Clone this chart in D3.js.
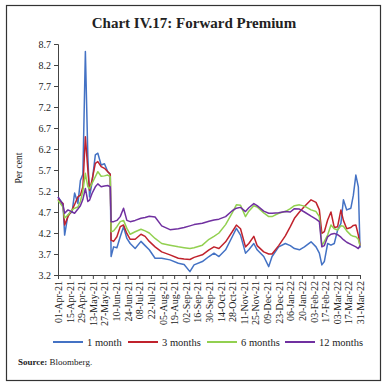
<!DOCTYPE html>
<html>
<head>
<meta charset="utf-8">
<script src="https://cdn.jsdelivr.net/npm/d3@7"></script>
<style>
  body { margin: 0; background: #fff; }
  svg text { font-family: "Liberation Serif", "DejaVu Serif", serif; fill: #222; }
</style>
</head>
<body>
<div class="CHART"></div>
<script>
// dates (same grid for all four lines)
var dates = ["2021-04-01","2021-04-07","2021-04-09","2021-04-13","2021-04-18","2021-04-21","2021-04-25","2021-04-28",
  "2021-05-01","2021-05-04","2021-05-07","2021-05-09","2021-05-12","2021-05-16","2021-05-19","2021-05-23","2021-05-27","2021-05-31",
  "2021-06-03","2021-06-04","2021-06-07","2021-06-11","2021-06-15","2021-06-19","2021-06-23","2021-06-27",
  "2021-07-03","2021-07-10","2021-07-15","2021-07-20","2021-07-27","2021-08-04","2021-08-14","2021-08-24","2021-08-31",
  "2021-09-07","2021-09-12","2021-09-22","2021-09-30","2021-10-06","2021-10-12","2021-10-20","2021-10-28",
  "2021-11-02","2021-11-07","2021-11-13","2021-11-17","2021-11-23","2021-11-27","2021-12-05","2021-12-11","2021-12-15","2021-12-23","2021-12-31",
  "2022-01-06","2022-01-11","2022-01-17","2022-01-23","2022-01-31","2022-02-06","2022-02-10","2022-02-13","2022-02-16","2022-02-20","2022-02-24","2022-02-28",
  "2022-03-04","2022-03-08","2022-03-11","2022-03-15","2022-03-20","2022-03-23","2022-03-26","2022-03-29","2022-03-31"];

var oneMonth = [5.05,4.9,4.15,4.63,4.7,5.15,4.9,5.45,5.6,8.52,6.0,5.06,5.4,6.06,6.1,5.82,5.85,5.66,
  5.6,3.64,3.87,3.85,4.11,4.35,4.07,3.95,3.83,4.0,3.9,3.8,3.6,3.6,3.56,3.48,3.45,
  3.28,3.44,3.52,3.64,3.72,3.64,3.8,4.11,4.31,4.15,3.72,3.8,3.95,3.8,3.64,3.4,3.64,3.87,3.95,
  3.9,3.83,3.8,3.87,3.99,3.87,3.72,3.44,3.52,3.95,3.91,3.95,4.27,4.43,4.99,4.75,4.79,5.1,5.58,5.3,3.85];

var threeMonths = [5.0,4.9,4.39,4.59,4.75,4.88,5.06,5.1,5.3,6.49,5.7,5.22,5.46,5.86,5.9,5.78,5.74,5.66,
  5.6,4.03,4.0,4.11,4.35,4.39,4.19,4.05,4.05,4.17,4.12,4.0,3.87,3.75,3.68,3.6,3.58,
  3.57,3.62,3.68,3.8,3.87,3.83,3.99,4.23,4.39,4.3,3.87,3.95,4.12,3.9,3.75,3.7,3.7,3.9,4.13,
  4.35,4.55,4.7,4.83,4.99,4.93,4.75,4.19,4.23,4.51,4.7,4.33,4.35,4.75,4.5,4.3,4.33,4.38,4.39,4.15,3.9];

var sixMonths = [4.98,4.82,4.56,4.63,4.75,4.79,4.82,4.95,5.2,5.62,5.3,5.26,5.38,5.54,5.66,5.55,5.56,5.58,
  5.54,4.23,4.25,4.35,4.47,4.5,4.31,4.17,4.23,4.29,4.25,4.2,4.07,3.95,3.91,3.87,3.85,
  3.83,3.85,3.91,4.05,4.12,4.2,4.4,4.68,4.87,4.86,4.59,4.72,4.85,4.82,4.68,4.59,4.59,4.67,4.71,
  4.78,4.85,4.87,4.84,4.75,4.71,4.59,3.9,4.0,4.15,4.39,4.3,4.27,4.37,4.36,4.25,4.15,4.12,4.11,4.05,3.9];

var twelveMonths = [5.06,4.87,4.67,4.75,4.7,4.67,4.77,4.85,5.0,5.26,4.95,4.98,5.14,5.3,5.37,5.3,5.32,5.33,
  5.3,4.47,4.47,4.5,4.59,4.79,4.5,4.47,4.5,4.55,4.57,4.6,4.58,4.37,4.28,4.3,4.33,
  4.37,4.4,4.43,4.48,4.51,4.53,4.59,4.73,4.79,4.81,4.71,4.8,4.9,4.85,4.72,4.67,4.67,4.68,4.71,
  4.7,4.78,4.77,4.7,4.6,4.53,4.47,3.87,3.9,4.11,4.17,4.19,4.16,4.1,4.04,3.98,3.93,3.9,3.87,3.83,3.9];

var seriesNames = ["1 month", "3 months", "6 months", "12 months"];
var seriesColors = ["#4472c4", "#c0222c", "#92d050", "#7030a0"];
var yTicks = [3.2, 3.7, 4.2, 4.7, 5.2, 5.7, 6.2, 6.7, 7.2, 7.7, 8.2, 8.7];

var W = 388, H = 388;
var margin = {top: 44, right: 28, bottom: 113, left: 58};

var svg = d3.select(".CHART").append("svg")
    .attr("width", W)
    .attr("height", H);

// outer frame
svg.append("rect")
    .attr("x", 6.5).attr("y", 5.5)
    .attr("width", 374).attr("height", 375)
    .attr("fill", "none")
    .attr("stroke", "#333")
    .attr("stroke-width", 1.2);

svg.append("text")
    .attr("x", 194).attr("y", 28)
    .attr("text-anchor", "middle")
    .style("font-size", "15px")
    .style("font-weight", "bold")
    .text("Chart IV.17: Forward Premium");

var parse = d3.timeParse("%Y-%m-%d");
var start = parse("2021-04-01"), end = parse("2022-03-31");

var x = d3.scaleTime()
    .domain([start, end])
    .range([margin.left, W - margin.right]);

var y = d3.scaleLinear()
    .domain([3.2, 8.7])
    .range([H - margin.bottom, margin.top]);

// x axis: tick every 14 days from 1 April
var xTicks = d3.range(0, 365, 14).map(function(d) { return d3.timeDay.offset(start, d); });

var xAxis = svg.append("g")
    .attr("transform", "translate(0," + (H - margin.bottom) + ")")
    .call(d3.axisBottom(x).tickValues(xTicks).tickFormat(d3.timeFormat("%d-%b-%y")).tickSizeOuter(0).tickSize(4));

xAxis.selectAll("text")
    .attr("transform", "rotate(-90)")
    .attr("text-anchor", "end")
    .attr("x", -6).attr("y", 0).attr("dy", "0.35em")
    .style("font-size", "10px");

var yAxis = svg.append("g")
    .attr("transform", "translate(" + margin.left + ",0)")
    .call(d3.axisLeft(y).tickValues(yTicks).tickFormat(d3.format(".1f")).tickSizeOuter(0).tickSize(4));

yAxis.selectAll("text").style("font-size", "10px");
svg.selectAll(".domain, .tick line").attr("stroke", "#444");

svg.append("text")
    .attr("transform", "translate(22," + 168 + ") rotate(-90)")
    .attr("text-anchor", "middle")
    .style("font-size", "9.5px")
    .text("Per cent");

var allSeries = [oneMonth, threeMonths, sixMonths, twelveMonths];

var line = d3.line()
    .x(function(d) { return x(d.date); })
    .y(function(d) { return y(d.value); });

allSeries.forEach(function(vals, i) {
    var pts = dates.map(function(d, j) { return {date: parse(d), value: vals[j]}; });
    svg.append("path")
        .datum(pts)
        .attr("fill", "none")
        .attr("stroke", seriesColors[i])
        .attr("stroke-width", 1.5)
        .attr("stroke-linejoin", "round")
        .attr("d", line);
});

// legend
var legendX = [53, 128, 207, 285];
var legend = svg.selectAll(".leg")
    .data(seriesNames)
    .enter().append("g")
    .attr("transform", function(d, i) { return "translate(" + legendX[i] + ",342)"; });

legend.append("line")
    .attr("x1", 0).attr("x2", 30)
    .attr("stroke", function(d, i) { return seriesColors[i]; })
    .attr("stroke-width", 2);

legend.append("text")
    .attr("x", 34).attr("dy", "0.35em")
    .style("font-size", "10.5px")
    .text(function(d) { return d; });

var src = svg.append("text")
    .attr("x", 18).attr("y", 365)
    .style("font-size", "9px");
src.append("tspan").style("font-weight", "bold").text("Source: ");
src.append("tspan").text("Bloomberg.");
</script>
</body>
</html>
